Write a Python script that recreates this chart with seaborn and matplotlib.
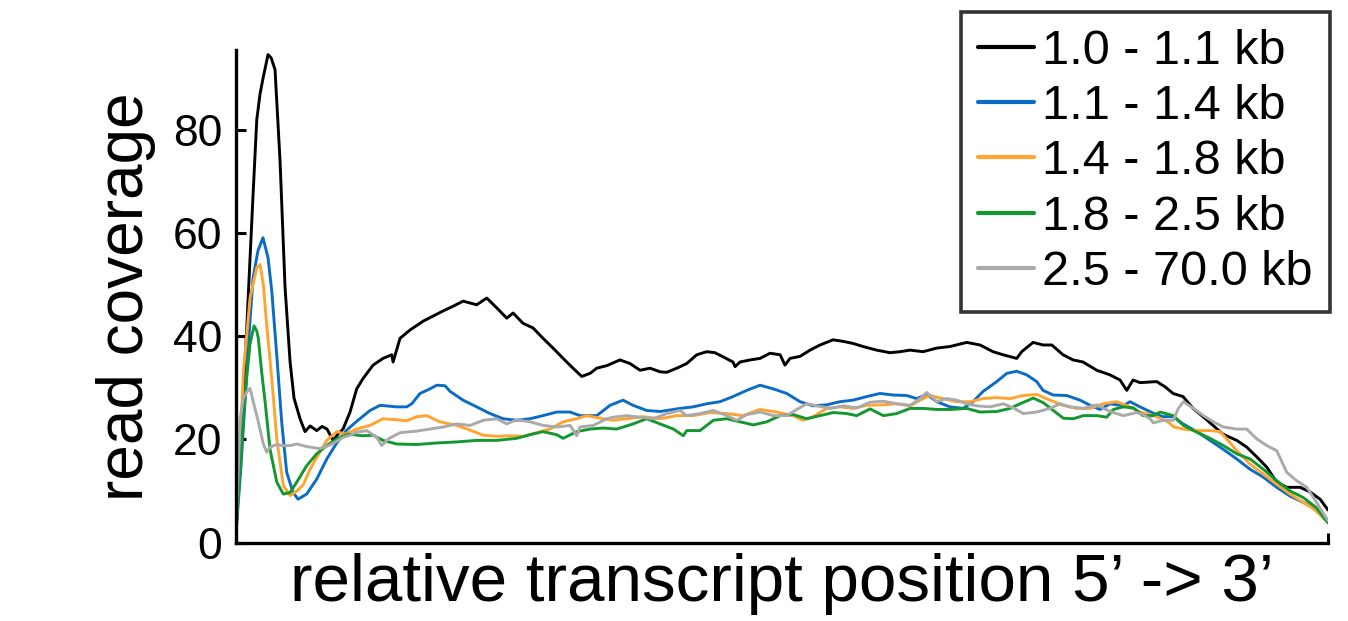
import matplotlib
matplotlib.use("Agg")
import matplotlib.pyplot as plt
import pandas as pd
import seaborn as sns

# transcript length bins and their colours
length_bins = ["1.0 - 1.1 kb", "1.1 - 1.4 kb", "1.4 - 1.8 kb", "1.8 - 2.5 kb", "2.5 - 70.0 kb"]
bin_colors = ["#000000", "#0a6cc6", "#ffa431", "#13982f", "#aaaaaa"]

# relative position along the transcript (% of length, 5' -> 3') and mean read coverage
pos_1_0 = [0, 0.46, 0.98, 1.28, 1.56, 1.90, 2.20, 2.47, 2.93, 3.21, 3.57, 4.03, 4.49, 4.95, 5.31, 5.86, 6.32, 6.78, 7.39, 7.88,
           8.33, 8.88, 9.34, 9.80, 10.44, 11.05, 11.63, 12.55, 13.46, 14.26, 14.38, 15.02, 15.93, 17.12, 18.04, 18.96, 19.87,
           20.79, 22.04, 22.96, 23.87, 24.79, 25.37, 26.28, 27.20, 28.11, 29.03, 29.95, 30.86, 31.66, 32.42, 33.03, 33.95,
           35.16, 36.08, 37.00, 37.91, 38.83, 39.44, 40.36, 41.27, 42.19, 43.10, 43.86, 44.60, 45.51, 45.70, 46.15, 47.07,
           47.99, 48.90, 49.82, 50.27, 50.73, 51.65, 52.56, 53.48, 54.67, 55.59, 56.50, 57.42, 58.67, 59.89, 60.81, 61.72,
           62.91, 64.17, 65.38, 66.91, 68.13, 69.32, 70.24, 71.49, 71.95, 72.99, 73.90, 74.70, 75.73, 76.65, 77.56, 78.82,
           80.04, 80.95, 81.57, 82.14, 82.78, 84.31, 85.07, 85.81, 86.72, 87.64, 88.55, 89.47, 90.38, 91.64, 92.55, 93.47,
           94.39, 95.30, 96.22, 97.44, 98.35, 99.27, 100]
cov_1_0 = [3, 20, 41.6, 55, 67.5, 82, 87, 90, 94.6, 94, 91.7, 74, 49.4, 35, 28, 24, 21.5, 22.6, 21.7, 22.5,
           22, 19.8, 21, 22, 25.3, 29.8, 31.8, 34.4, 35.7, 36.4, 35, 39.6, 41.2, 42.9, 43.9, 44.9, 45.8,
           46.8, 46.1, 47.4, 45.5, 43.5, 44.5, 42.5, 41.6, 39.6, 37.7, 35.7, 33.8, 32.2, 32.8, 33.8, 34.3,
           35.4, 34.7, 33.4, 33.8, 33.1, 33, 33.8, 34.7, 36.4, 37, 36.8, 36, 35, 34.1, 35, 35.4,
           35.7, 36.7, 36.4, 34.4, 35.7, 36.1, 37.3, 38.3, 39.3, 39, 38.6, 38, 37.3, 36.8, 37, 37.3,
           37, 37.7, 38, 38.8, 38.3, 37, 36.4, 35.7, 37, 38.8, 38.3, 38.3, 36.4, 35.4, 35, 33.4,
           32.5, 31.5, 29.5, 31.5, 31, 31.2, 30.2, 28.9, 28.3, 26, 24.4, 22.7, 21, 19.8, 18.5, 16.6,
           14.6, 11.7, 10.7, 10.7, 9.8, 8.4, 6.3]

pos_1_1 = [0, 0.46, 0.98, 1.28, 1.56, 2.01, 2.47, 2.93, 3.27, 3.73, 4.18, 4.64, 5.22, 5.68, 6.47, 7.39, 8.31, 9.22, 10.14,
           11.05, 12.27, 13.19, 14.72, 15.63, 16.09, 16.85, 17.77, 18.38, 19.14, 19.60, 20.79, 22.04, 23.26, 24.45, 25.71,
           26.92, 28.11, 29.37, 30.59, 31.50, 33.03, 34.25, 35.44, 36.36, 37.61, 38.83, 40.66, 41.85, 43.10, 44.32, 45.51,
           46.77, 47.99, 49.18, 50.43, 51.65, 52.84, 54.09, 55.31, 56.50, 57.76, 58.97, 60.16, 61.42, 62.33, 63.25, 64.17,
           65.38, 66.58, 67.49, 68.41, 69.66, 70.58, 71.49, 72.41, 73.32, 73.90, 74.82, 76.07, 77.29, 78.21, 79.12, 80.04,
           81.23, 81.87, 82.78, 84.07, 84.89, 85.81, 86.72, 87.98, 89.19, 90.38, 91.64, 92.86, 94.05, 95.30, 96.52, 97.71,
           98.63, 100]
cov_1_1 = [2, 15, 33, 43, 51.3, 56.6, 59.1, 55.2, 48.8, 36.3, 23.4, 13.6, 9.7, 8.4, 9.4, 12.3, 16.2, 19.3, 21.8,
           23.5, 25.6, 26.6, 26.3, 26.3, 26.9, 28.9, 29.8, 30.5, 30.4, 29.3, 27.6, 26.3, 25, 24, 23.7,
           24, 24.6, 25.3, 25.3, 24.6, 24.6, 26.6, 27.6, 26.6, 25.6, 25.4, 26, 26.3, 26.9, 27.3, 28.3,
           29.5, 30.5, 29.8, 28.9, 27.3, 26.5, 26.7, 27.3, 27.6, 28.3, 28.9, 28.6, 28.5, 27.9, 28.7, 27.3,
           26.3, 26, 27.3, 29.3, 31.2, 32.8, 33.2, 32.5, 31.2, 29.5, 28.6, 28.5, 27.6, 26.6, 25.8, 26.9,
           26.5, 27.3, 26.3, 25, 24.4, 24.4, 23, 21.5, 19.8, 18.1, 16.2, 14.2, 12.7, 10.7, 9, 7.8,
           6.8, 3.9]

pos_1_4 = [0, 0.37, 0.67, 1.28, 1.90, 2.20, 2.50, 2.81, 3.27, 3.73, 4.33, 4.95, 5.56, 6.16, 6.78, 7.39, 8.31, 9.22, 9.98,
           11.05, 12.27, 13.46, 14.72, 15.63, 16.55, 17.46, 18.68, 20.21, 21.43, 22.62, 23.87, 25.09, 26.28, 27.54, 28.75,
           29.95, 31.20, 32.12, 33.61, 34.52, 35.78, 37.27, 38.83, 40.36, 41.85, 43.41, 44.94, 46.43, 47.99, 49.51, 51.01,
           51.92, 52.84, 54.09, 55.31, 56.50, 57.76, 59.25, 60.50, 61.72, 62.64, 63.55, 64.74, 66.00, 67.22, 68.41, 69.66,
           70.88, 72.07, 73.32, 74.54, 75.73, 76.99, 78.21, 79.40, 80.65, 81.87, 82.78, 84.07, 85.32, 85.90, 86.72, 87.98,
           89.19, 90.11, 90.72, 91.64, 92.86, 94.05, 95.30, 96.52, 97.71, 98.63, 100]
cov_1_4 = [2, 18, 33, 47.4, 53.3, 53.9, 50, 42.2, 31.8, 20.1, 11, 9.1, 10, 11.2, 14.2, 16.5, 19.8, 21.5, 21,
           22, 22.7, 24, 23.8, 23.6, 24.4, 24.6, 23.4, 22.7, 21.8, 20.8, 20.6, 20.7, 20.6, 21.3, 22,
           23.4, 24, 24.6, 24, 23.7, 24, 24.4, 24, 24.6, 24.6, 25.2, 25, 24.6, 25.8, 25.3, 24.6,
           23.7, 24.4, 26, 26.3, 26, 26.6, 26.7, 26.9, 26.5, 27.6, 28.5, 27.9, 27.3, 27.3, 27.9, 28.1,
           27.9, 28.5, 28.7, 27.6, 26.6, 26, 26, 26.9, 27.3, 26.3, 25.3, 24.6, 23.4, 22.4, 22, 21.7,
           21.7, 21.5, 20.1, 17.8, 15.2, 13.3, 11.3, 9.4, 7.8, 6.6, 4]

pos_1_8 = [0, 0.37, 0.67, 0.98, 1.28, 1.65, 1.90, 2.04, 2.35, 2.66, 3.11, 3.73, 4.33, 4.95, 5.56, 6.47, 7.39, 8.31, 9.22,
           10.28, 11.63, 12.55, 13.46, 14.72, 16.55, 18.38, 20.21, 22.04, 23.87, 25.71, 26.92, 28.11, 29.37, 29.95, 31.20,
           32.42, 33.61, 34.86, 36.36, 37.61, 38.83, 40.05, 40.96, 41.27, 42.49, 43.71, 44.94, 46.15, 47.37, 48.60, 49.82,
           51.04, 52.26, 53.48, 54.70, 55.92, 56.84, 58.06, 59.28, 60.50, 61.72, 62.94, 64.17, 65.38, 66.91, 68.13, 69.66,
           70.88, 71.79, 73.01, 73.93, 74.84, 75.76, 76.68, 77.59, 78.82, 79.73, 80.34, 81.25, 82.17, 83.06, 84.00, 84.62,
           85.83, 86.75, 87.98, 89.19, 90.41, 91.64, 92.86, 94.07, 95.30, 96.52, 97.74, 98.90, 100]
cov_1_8 = [2, 14, 24, 32, 38.5, 42, 41, 39.6, 33, 27.3, 18.1, 11.7, 9.4, 9.7, 11.7, 14.9, 17.2, 18.8, 20.1,
           21, 20.7, 20.8, 19.8, 19.1, 19, 19.3, 19.5, 19.8, 19.8, 20.2, 20.9, 21.5, 20.9, 20.2, 21.5,
           22, 22.2, 22, 23, 24, 23, 22, 20.7, 21.7, 21.7, 23.7, 24, 23.4, 22.8, 23.4, 24.6,
           24.8, 24, 24.6, 25.2, 25, 24.6, 25.9, 24.6, 25, 26, 26, 25.8, 25.8, 26, 25.3, 25.4,
           26, 26.9, 28, 27.1, 25.6, 24.1, 24, 24.6, 24.6, 24.3, 25.8, 26.3, 26.1, 24.6, 24.6, 25.3,
           24.6, 22.7, 21.4, 20.2, 18.8, 17.2, 16.2, 14.2, 12, 10, 8.7, 6.8, 3.8]

pos_2_5 = [0, 0.37, 0.67, 0.98, 1.28, 1.58, 2.04, 2.50, 2.81, 3.11, 3.73, 4.30, 4.95, 5.56, 6.47, 7.69, 8.61, 9.83, 10.44,
           11.05, 11.97, 12.88, 13.34, 13.95, 15.02, 16.55, 17.77, 18.98, 20.21, 21.43, 22.65, 23.87, 24.79, 25.71, 26.92,
           28.14, 29.37, 30.59, 31.20, 31.50, 32.72, 33.95, 34.55, 35.78, 37.00, 38.21, 39.44, 40.66, 41.27, 42.49, 43.71,
           44.94, 45.85, 46.77, 47.99, 49.20, 50.43, 51.35, 52.26, 53.18, 54.40, 55.61, 56.84, 58.06, 59.28, 60.50, 61.72,
           62.64, 63.25, 64.17, 65.08, 66.00, 66.91, 67.83, 69.05, 70.27, 71.18, 72.10, 73.32, 74.54, 75.46, 76.37, 77.59,
           78.82, 80.04, 81.25, 82.48, 83.06, 83.70, 84.00, 84.92, 85.83, 86.29, 86.75, 87.67, 88.58, 89.50, 90.41, 91.64,
           92.55, 93.47, 94.39, 95.30, 96.22, 97.12, 98.05, 98.97, 100]
cov_2_5 = [3, 24, 28, 29.2, 29.9, 27.3, 23.4, 19.1, 17.5, 18.5, 19, 18.8, 18.8, 19.1, 18.6, 18.2, 18.9, 20.4, 20.8,
           21.4, 21.7, 20.4, 18.8, 20.1, 21.3, 21.6, 22, 22.4, 23, 22.7, 23.7, 24, 23, 23.8, 23.4,
           22.7, 22.4, 22.7, 20.7, 22.4, 22.7, 24, 24.3, 24.6, 24.3, 24, 25, 25.6, 24.6, 25, 25.6,
           24.6, 23.7, 24.8, 25.3, 24.6, 24.6, 25.8, 26.9, 26.5, 26, 26.5, 26.1, 27.2, 27.4, 26.9, 26.6,
           27.9, 29.1, 27.3, 27.9, 27.6, 26.9, 26.5, 26.3, 26.9, 26.1, 25, 25.3, 26, 26.9, 26.3, 26,
           26.7, 25.4, 24.6, 25.2, 24.8, 24, 23.2, 23.7, 23.7, 26, 27.3, 26, 24.6, 23.4, 22.4, 22,
           22, 20.1, 18.8, 17.8, 13.6, 12, 10.7, 7.7, 4.2]

positions = [pos_1_0, pos_1_1, pos_1_4, pos_1_8, pos_2_5]
coverages = [cov_1_0, cov_1_1, cov_1_4, cov_1_8, cov_2_5]

frames = []
for label, pos, cov in zip(length_bins, positions, coverages):
    frames.append(pd.DataFrame({"position": pos, "coverage": cov, "length": label}))
profile = pd.concat(frames, ignore_index=True)

sns.set_theme(style="white")
plt.rcParams["font.family"] = ["Liberation Sans", "DejaVu Sans"]

fig = plt.figure(figsize=(13.48, 6.21), dpi=100)
ax = fig.add_axes([0.1751, 0.1264, 0.8101, 0.7931])

sns.lineplot(data=profile, x="position", y="coverage", hue="length", hue_order=length_bins,
             palette=dict(zip(length_bins, bin_colors)), estimator=None, sort=False,
             linewidth=2.1, ax=ax)

ax.set_xlim(0, 100)
ax.set_ylim(0, 95.5)
ax.set_yticks([0, 20, 40, 60, 80])
ax.set_xticks([0, 100])
ax.set_xticklabels([])

for side in ("top", "right"):
    ax.spines[side].set_visible(False)
for side in ("left", "bottom"):
    ax.spines[side].set_color("black")
    ax.spines[side].set_linewidth(2.4)

ax.tick_params(axis="y", direction="in", length=7, width=2.2, colors="black", labelsize=32, pad=10, left=True)
ax.tick_params(axis="x", direction="in", length=7, width=2.2, colors="black", bottom=True)

ax.set_ylabel("read coverage", fontsize=46, color="black", labelpad=12)
ax.set_xlabel("relative transcript position 5\u2019 -> 3\u2019", fontsize=48.5, color="black", labelpad=4)

handles, labels = ax.get_legend_handles_labels()
for h in handles:
    h.set_linewidth(3.0)
leg = ax.legend(handles, labels, loc="upper right", bbox_to_anchor=(1330 / 1348, 1 - 12 / 621),
                bbox_transform=fig.transFigure, borderaxespad=0, fontsize=35, frameon=True,
                fancybox=False, handlelength=1.15, handletextpad=0.18, labelspacing=0.21,
                borderpad=0.35, labelcolor="black")
leg.get_frame().set_edgecolor("black")
leg.get_frame().set_linewidth(2.6)

fig.savefig("out.png", dpi=100)
